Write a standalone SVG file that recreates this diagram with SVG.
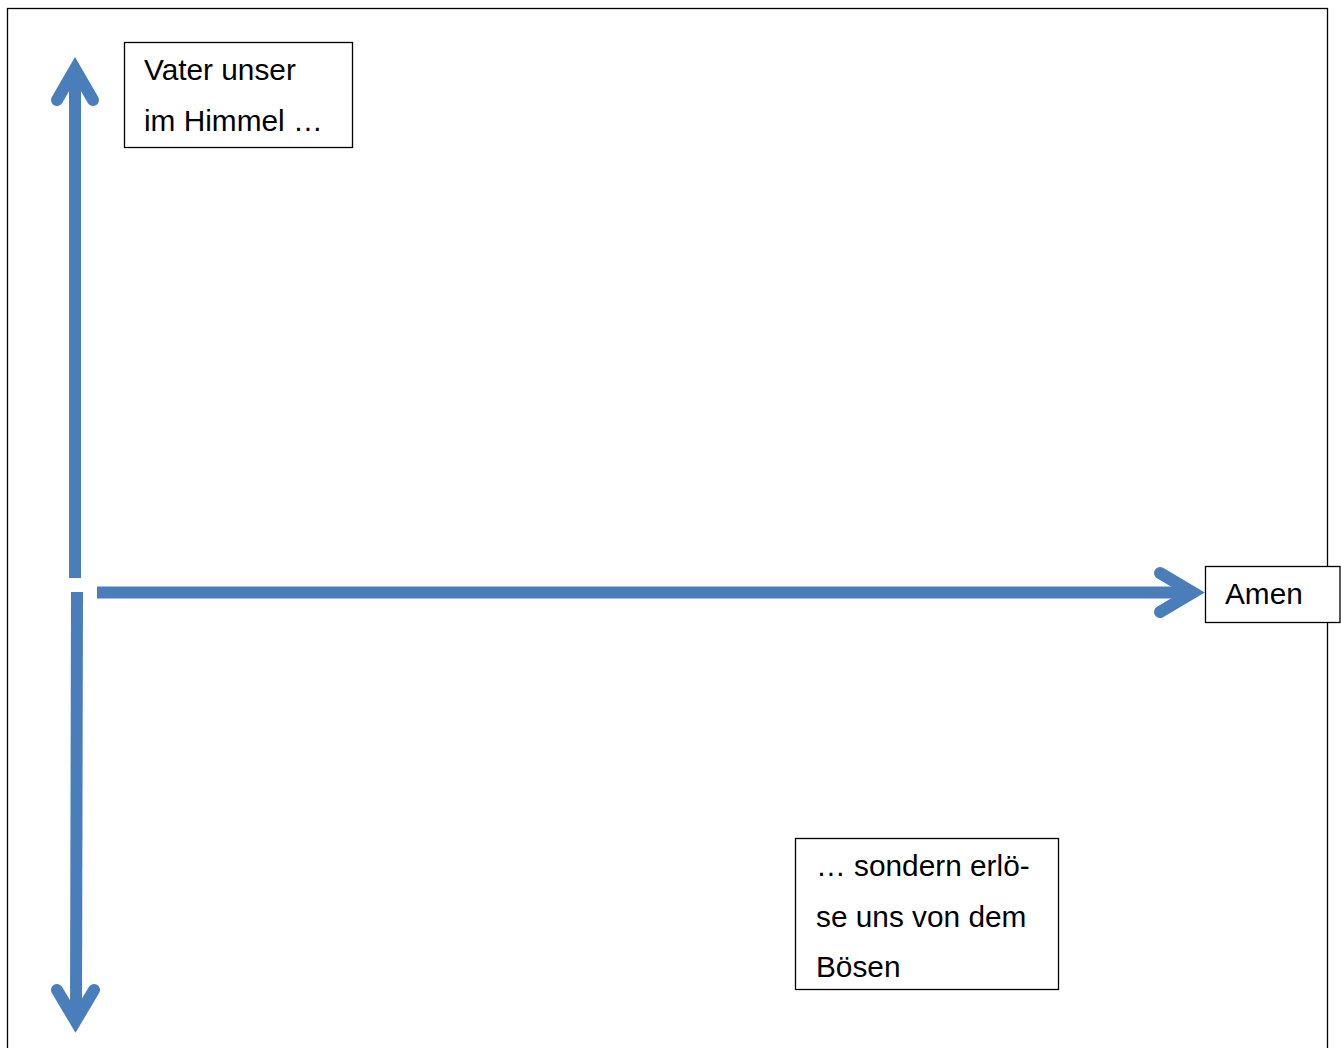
<svg xmlns="http://www.w3.org/2000/svg" width="1341" height="1048" viewBox="0 0 1341 1048">
<style>
.box{fill:#fff;stroke:#000;stroke-width:1.3}
.t{font-family:"Liberation Sans",Arial,sans-serif;font-size:29.8px;fill:#000}
.ln{fill:none;stroke:#4a7ebb;stroke-width:12}
.hd{fill:none;stroke:#4a7ebb;stroke-width:12;stroke-linecap:round;stroke-linejoin:miter;stroke-miterlimit:10}
</style>
<rect x="0" y="0" width="1341" height="1048" fill="#fff"/>
<rect id="frame" x="7.5" y="8.5" width="1320" height="1060" fill="none" stroke="#000" stroke-width="1.3"/>
<g id="connectors">
<line class="ln" x1="75" y1="578" x2="75" y2="75"/>
<polyline class="hd" points="57,100 75,69 93,100"/>
<line class="ln" x1="77" y1="592" x2="76" y2="1018"/>
<polyline class="hd" points="57,990 75.5,1021 94,990"/>
<line class="ln" x1="97" y1="592.5" x2="1188" y2="592.5"/>
<polyline class="hd" points="1160,573 1193,592.5 1160,612"/>
</g>
<g id="node-vater">
<rect class="box" x="124.5" y="42.5" width="228" height="105"/>
<text class="t" x="144" y="80">Vater unser</text>
<text class="t" x="144" y="131">im Himmel …</text>
</g>
<g id="node-amen">
<rect class="box" x="1205.5" y="566.5" width="134.5" height="56"/>
<text class="t" x="1225" y="604">Amen</text>
</g>
<g id="node-boesen">
<rect class="box" x="795.5" y="838.5" width="263" height="151"/>
<text class="t" x="816" y="876">… sondern erlö-</text>
<text class="t" x="816" y="927">se uns von dem</text>
<text class="t" x="816" y="977">Bösen</text>
</g>
</svg>
